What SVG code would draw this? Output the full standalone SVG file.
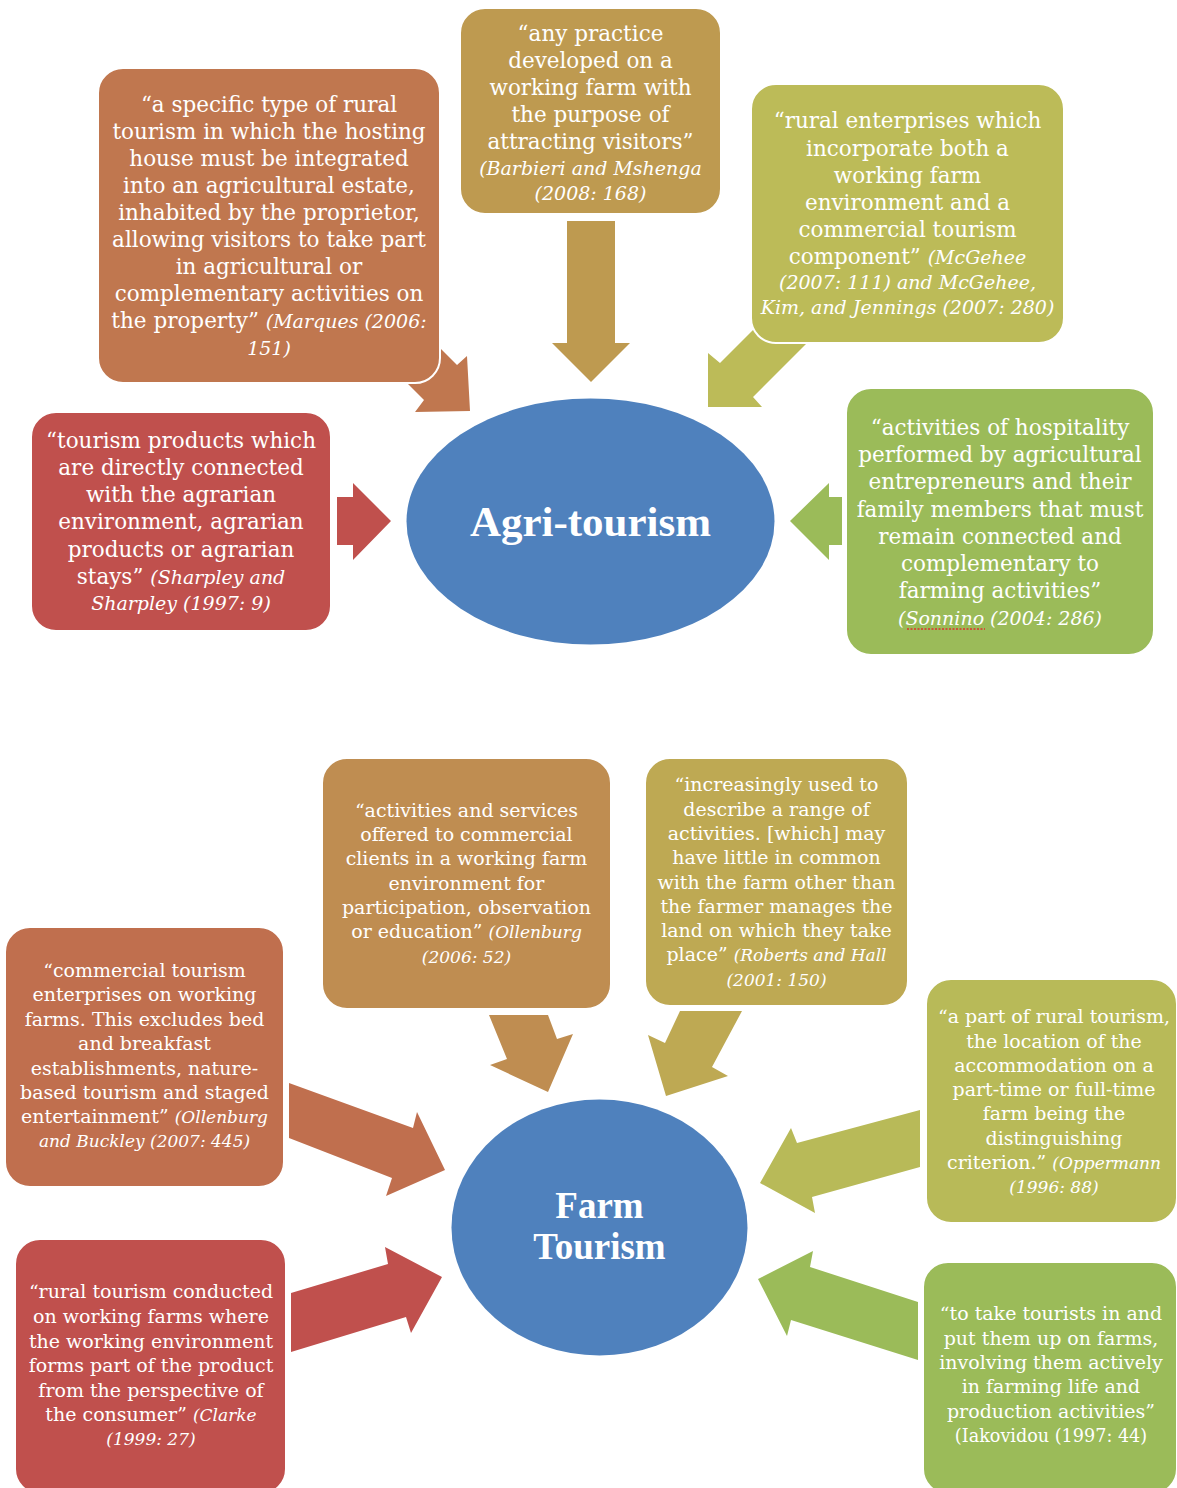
<svg xmlns="http://www.w3.org/2000/svg" width="1177" height="1488" viewBox="0 0 1177 1488">
<style>
.t{font-family:"DejaVu Serif","Liberation Serif",serif;fill:#fff;text-anchor:middle}
.a{font-size:21.5px}
.b{font-size:19px}
.ia{font-style:italic;font-size:19px}
.ib{font-style:italic;font-size:17px}
.ttl{font-family:"Liberation Serif","Times New Roman",serif;font-weight:bold;fill:#fff;text-anchor:middle}
.box{stroke:#fff;stroke-width:2}
</style>
<rect width="1177" height="1488" fill="#fff"/>
<g id="connectors">
<polygon points="387,295 457,365 467,356 470,411 415,412 424,400 354,330" fill="#C0774F"/>
<polygon points="567,221 615,221 615,343 630,343 591,382 552,343 567,343" fill="#BE9A50"/>
<polygon points="790,293 720,363 708,353 708,407 762,407 753,397 823,327" fill="#BCBB58"/>
<polygon points="337,497 353,497 353,483 391,521 353,560 353,545 337,545" fill="#C0504D"/>
<polygon points="842,497 829,497 829,483 790,521 829,560 829,545 842,545" fill="#9BBB59"/>
<polygon points="289,1083 413,1128 417,1112 445,1170 386,1196 392,1178 289,1138" fill="#C06F4E"/>
<polygon points="489,1015 548,1015 557,1039 573,1034 548,1092 490,1065 507,1059" fill="#BF8D51"/>
<polygon points="680,1011 742,1011 712,1067 728,1076 666,1096 648,1035 665,1043" fill="#BEA953"/>
<polygon points="920,1110 797,1143 791,1128 760,1183 815,1213 812,1197 920,1167" fill="#B8BA58"/>
<polygon points="918,1302 810,1267 813,1251 758,1279 787,1336 791,1320 918,1360" fill="#9BBB59"/>
<polygon points="291,1293 388,1264 385,1247 442,1277 411,1333 406,1317 291,1352" fill="#C0504D"/>
</g>
<g id="agri-tourism">
<ellipse cx="590.5" cy="521.5" rx="184" ry="123" fill="#4F81BD"/>
<text class="ttl" x="590.5" y="536" font-size="43">Agri-tourism</text>
</g>
<g id="def-marques">
<rect class="box" x="98" y="68" width="342" height="315" rx="25" fill="#C0774F"/>
<text class="t a" x="269" y="112">“a specific type of rural</text>
<text class="t a" x="269" y="139">tourism in which the hosting</text>
<text class="t a" x="269" y="166">house must be integrated</text>
<text class="t a" x="269" y="193">into an agricultural estate,</text>
<text class="t a" x="269" y="220">inhabited by the proprietor,</text>
<text class="t a" x="269" y="247">allowing visitors to take part</text>
<text class="t a" x="269" y="274">in agricultural or</text>
<text class="t a" x="269" y="301">complementary activities on</text>
<text class="t a" x="269" y="328">the property” <tspan class="ia">(Marques (2006:</tspan></text>
<text class="t ia" x="269" y="355">151)</text>
</g>
<g id="def-barbieri">
<rect class="box" x="460" y="8" width="261" height="206" rx="25" fill="#BE9A50"/>
<text class="t a" x="590.5" y="41">“any practice</text>
<text class="t a" x="590.5" y="68">developed on a</text>
<text class="t a" x="590.5" y="95">working farm with</text>
<text class="t a" x="590.5" y="122">the purpose of</text>
<text class="t a" x="590.5" y="149">attracting visitors”</text>
<text class="t ia" x="590.5" y="175">(Barbieri and Mshenga</text>
<text class="t ia" x="590.5" y="200">(2008: 168)</text>
</g>
<g id="def-mcgehee">
<rect class="box" x="751" y="84" width="313" height="259" rx="25" fill="#BCBB58"/>
<text class="t a" x="907.5" y="128">“rural enterprises which</text>
<text class="t a" x="907.5" y="156">incorporate both a</text>
<text class="t a" x="907.5" y="183">working farm</text>
<text class="t a" x="907.5" y="210">environment and a</text>
<text class="t a" x="907.5" y="237">commercial tourism</text>
<text class="t a" x="907.5" y="264">component” <tspan class="ia">(McGehee</tspan></text>
<text class="t ia" x="907.5" y="289">(2007: 111) and McGehee,</text>
<text class="t ia" x="907.5" y="314">Kim, and Jennings (2007: 280)</text>
</g>
<g id="def-sharpley">
<rect class="box" x="31" y="412" width="300" height="219" rx="25" fill="#C0504D"/>
<text class="t a" x="181" y="448">“tourism products which</text>
<text class="t a" x="181" y="475">are directly connected</text>
<text class="t a" x="181" y="502">with the agrarian</text>
<text class="t a" x="181" y="529">environment, agrarian</text>
<text class="t a" x="181" y="557">products or agrarian</text>
<text class="t a" x="181" y="584">stays” <tspan class="ia">(Sharpley and</tspan></text>
<text class="t ia" x="181" y="610">Sharpley (1997: 9)</text>
</g>
<g id="def-sonnino">
<rect class="box" x="846" y="388" width="308" height="267" rx="25" fill="#9BBB59"/>
<text class="t a" x="1000" y="435">“activities of hospitality</text>
<text class="t a" x="1000" y="462">performed by agricultural</text>
<text class="t a" x="1000" y="489">entrepreneurs and their</text>
<text class="t a" x="1000" y="517">family members that must</text>
<text class="t a" x="1000" y="544">remain connected and</text>
<text class="t a" x="1000" y="571">complementary to</text>
<text class="t a" x="1000" y="598">farming activities”</text>
<text class="t ia" x="1000" y="625">(Sonnino (2004: 286)</text>
<line x1="907" y1="629" x2="985" y2="629" stroke="#E0302E" stroke-width="1.3" stroke-dasharray="2 1.5"/>
</g>
<g id="farm-tourism">
<ellipse cx="599.5" cy="1227.5" rx="148" ry="128" fill="#4F81BD"/>
<text class="ttl" x="599.5" y="1218" font-size="37">Farm</text>
<text class="ttl" x="599.5" y="1259" font-size="37">Tourism</text>
</g>
<g id="def-ollenburg-buckley">
<rect class="box" x="5" y="927" width="279" height="260" rx="25" fill="#C06F4E"/>
<text class="t b" x="144.5" y="977">“commercial tourism</text>
<text class="t b" x="144.5" y="1001">enterprises on working</text>
<text class="t b" x="144.5" y="1026">farms. This excludes bed</text>
<text class="t b" x="144.5" y="1050">and breakfast</text>
<text class="t b" x="144.5" y="1075">establishments, nature-</text>
<text class="t b" x="144.5" y="1099">based tourism and staged</text>
<text class="t b" x="144.5" y="1123">entertainment” <tspan class="ib">(Ollenburg</tspan></text>
<text class="t ib" x="144.5" y="1147">and Buckley (2007: 445)</text>
</g>
<g id="def-ollenburg">
<rect class="box" x="322" y="758" width="289" height="251" rx="25" fill="#BF8D51"/>
<text class="t b" x="466.5" y="817">“activities and services</text>
<text class="t b" x="466.5" y="841">offered to commercial</text>
<text class="t b" x="466.5" y="865">clients in a working farm</text>
<text class="t b" x="466.5" y="890">environment for</text>
<text class="t b" x="466.5" y="914">participation, observation</text>
<text class="t b" x="466.5" y="938">or education” <tspan class="ib">(Ollenburg</tspan></text>
<text class="t ib" x="466.5" y="963">(2006: 52)</text>
</g>
<g id="def-roberts-hall">
<rect class="box" x="645" y="758" width="263" height="248" rx="25" fill="#BEA953"/>
<text class="t b" x="776.5" y="791">“increasingly used to</text>
<text class="t b" x="776.5" y="816">describe a range of</text>
<text class="t b" x="776.5" y="840">activities. [which] may</text>
<text class="t b" x="776.5" y="864">have little in common</text>
<text class="t b" x="776.5" y="889">with the farm other than</text>
<text class="t b" x="776.5" y="913">the farmer manages the</text>
<text class="t b" x="776.5" y="937">land on which they take</text>
<text class="t b" x="776.5" y="961">place” <tspan class="ib">(Roberts and Hall</tspan></text>
<text class="t ib" x="776.5" y="986">(2001: 150)</text>
</g>
<g id="def-oppermann">
<rect class="box" x="926" y="979" width="251" height="244" rx="25" fill="#B8BA58"/>
<text class="t b" x="1054" y="1023">“a part of rural tourism,</text>
<text class="t b" x="1054" y="1048">the location of the</text>
<text class="t b" x="1054" y="1072">accommodation on a</text>
<text class="t b" x="1054" y="1096">part-time or full-time</text>
<text class="t b" x="1054" y="1120">farm being the</text>
<text class="t b" x="1054" y="1145">distinguishing</text>
<text class="t b" x="1054" y="1169">criterion.” <tspan class="ib">(Oppermann</tspan></text>
<text class="t ib" x="1054" y="1193">(1996: 88)</text>
</g>
<g id="def-iakovidou">
<rect class="box" x="923" y="1262" width="254" height="232" rx="25" fill="#9BBB59"/>
<text class="t b" x="1051" y="1320">“to take tourists in and</text>
<text class="t b" x="1051" y="1345">put them up on farms,</text>
<text class="t b" x="1051" y="1369">involving them actively</text>
<text class="t b" x="1051" y="1393">in farming life and</text>
<text class="t b" x="1051" y="1418">production activities”</text>
<text class="t" x="1051" y="1442" font-size="17.6">(Iakovidou (1997: 44)</text>
</g>
<g id="def-clarke">
<rect class="box" x="15" y="1239" width="271" height="255" rx="25" fill="#C0504D"/>
<text class="t b" x="151" y="1298">“rural tourism conducted</text>
<text class="t b" x="151" y="1323">on working farms where</text>
<text class="t b" x="151" y="1348">the working environment</text>
<text class="t b" x="151" y="1372">forms part of the product</text>
<text class="t b" x="151" y="1397">from the perspective of</text>
<text class="t b" x="151" y="1421">the consumer” <tspan class="ib">(Clarke</tspan></text>
<text class="t ib" x="151" y="1445">(1999: 27)</text>
</g>
</svg>
